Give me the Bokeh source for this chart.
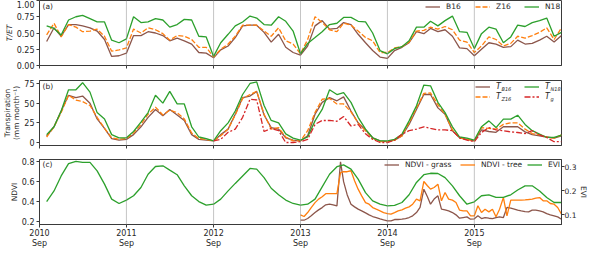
import math
from datetime import datetime
import numpy as np
import pandas as pd
from bokeh.plotting import figure
from bokeh.layouts import column
from bokeh.models import (Range1d, LinearAxis, FixedTicker, DatetimeTickFormatter,
                          NumeralTickFormatter, Span, Legend, LegendItem, Label)
from bokeh.embed import file_html
from bokeh.resources import INLINE

# ---------------- data ----------------
months = pd.date_range("2010-10-01", periods=72, freq="MS")
tg_months = pd.date_range("2012-09-01", periods=49, freq="MS")
ndvi_dates = []
for m in pd.date_range("2013-09-01", "2016-08-01", freq="MS"):
    ndvi_dates.append(m)
    ndvi_dates.append(m + pd.Timedelta(days=15))
ndvi_dates.append(pd.Timestamp("2016-09-01"))

year_ticks = [datetime(y, 9, 1) for y in range(2010, 2016)]

# (a) T/ET
tet_b16 = [0.37, 0.58, 0.45, 0.63, 0.63, 0.61, 0.58, 0.53, 0.40, 0.14, 0.15, 0.19, 0.46, 0.46, 0.52, 0.50, 0.46, 0.38, 0.42, 0.38, 0.33, 0.20,
           0.19, 0.12, 0.24, 0.30, 0.43, 0.61, 0.62, 0.62, 0.51, 0.36, 0.48, 0.28, 0.20, 0.16,
           0.30, 0.61, 0.69, 0.56, 0.57, 0.66, 0.63, 0.48, 0.35, 0.23, 0.13, 0.11, 0.23,
           0.28, 0.35, 0.52, 0.49, 0.57, 0.52, 0.55, 0.45, 0.27, 0.26, 0.15, 0.25, 0.35, 0.33, 0.28, 0.29, 0.39, 0.33, 0.34, 0.39, 0.45, 0.36, 0.46]
tet_z16 = [0.47, 0.65, 0.44, 0.63, 0.59, 0.52, 0.53, 0.56, 0.45, 0.22, 0.24, 0.27, 0.56, 0.50, 0.58, 0.55, 0.49, 0.39, 0.46, 0.45, 0.40, 0.28,
           0.28, 0.13, 0.25, 0.33, 0.45, 0.62, 0.62, 0.62, 0.53, 0.45, 0.58, 0.38, 0.33, 0.18,
           0.40, 0.75, 0.66, 0.55, 0.52, 0.65, 0.62, 0.53, 0.43, 0.38, 0.20, 0.20, 0.27,
           0.29, 0.36, 0.53, 0.54, 0.59, 0.56, 0.60, 0.55, 0.39, 0.36, 0.20, 0.30, 0.44, 0.40, 0.30, 0.34, 0.45, 0.42, 0.46, 0.51, 0.58, 0.40, 0.58]
tet_n18 = [0.61, 0.57, 0.47, 0.70, 0.75, 0.77, 0.72, 0.67, 0.67, 0.39, 0.35, 0.41, 0.75, 0.66, 0.67, 0.72, 0.70, 0.59, 0.63, 0.71, 0.70, 0.45,
           0.44, 0.14, 0.35, 0.48, 0.61, 0.67, 0.76, 0.73, 0.63, 0.62, 0.75, 0.68, 0.53, 0.18,
           0.34, 0.43, 0.52, 0.63, 0.65, 0.74, 0.74, 0.68, 0.67, 0.50, 0.23, 0.18, 0.26,
           0.29, 0.38, 0.59, 0.59, 0.68, 0.61, 0.69, 0.76, 0.52, 0.51, 0.26, 0.49, 0.59, 0.56, 0.35, 0.44, 0.62, 0.60, 0.66, 0.69, 0.73, 0.45, 0.51]

# (b) transpiration, mm/month
tr_b16 = [8, 20, 40, 60, 57, 59, 50, 30, 18, 5, 3, 4, 10, 20, 32, 42, 34, 42, 35, 28, 10, 4,
          3, 2, 10, 17, 36, 57, 59, 65, 35, 19, 17, 6, 3, 2, 8.5, 36, 51, 57, 53, 58, 40, 25, 16, 6, 2, 1, 3,
          8.5, 23, 42, 61, 61, 44, 36, 15, 6, 4, 2, 16, 14, 13, 20, 20, 20, 13.5, 10, 8.5, 7, 5.5, 8.5]
tr_z16 = [7, 20, 38, 60, 54, 52, 47, 32, 18, 6, 4, 5, 12, 23, 36, 45, 35, 41, 38, 30, 12, 5,
          4, 2, 8.5, 17, 35, 56, 61, 65, 36, 17, 19, 7, 2, 2, 15, 38, 55, 56, 49, 49, 39, 25, 15, 5.5, 1, 1, 3,
          8.5, 25, 44, 62.5, 63, 48, 36, 16, 6, 4, 2, 19, 18, 17, 23, 25, 25, 17, 11.4, 9.7, 7, 5.5, 9.7]
tr_n18 = [10, 20, 40, 67, 67, 76, 64, 38, 30, 10, 6, 6, 14, 26, 38, 60, 50, 65, 49, 49, 20, 7,
          5, 2, 15, 25, 40, 61, 75, 77, 47, 28, 25, 11, 5.5, 3, 7, 27.5, 42, 67, 61, 63.5, 51, 32, 17, 6, 2, 2, 4,
          10.6, 27.5, 46.6, 73, 72, 51, 38, 20, 7, 5.5, 3, 20, 27.5, 19, 29.7, 29.7, 34.7, 23, 15, 10.6, 6.4, 6.4, 9.3]
tr_g = [2, 4, 13, 17, 32, 55, 54, 14, 18, 15, 0, 0, 1, 4, 23, 28, 28, 27, 33, 21, 23, 11, 4, 0, 0, 3,
        10.6, 15, 17, 20, 18, 16, 16, 15, 6, 3, 1, 12.7, 19, 16, 15, 13.5, 12.7, 11.4, 15, 9.7, 6.4, 1, 1]

# (c) EVI (monthly) and NDVI (semi-monthly)
evi = [0.155, 0.199, 0.261, 0.312, 0.321, 0.317, 0.317, 0.282, 0.227, 0.165, 0.147, 0.161, 0.179, 0.213, 0.268, 0.300, 0.303, 0.285, 0.266, 0.220, 0.179, 0.155,
       0.140, 0.144, 0.165, 0.199, 0.230, 0.261, 0.292, 0.289, 0.254, 0.210, 0.183, 0.161, 0.147, 0.140, 0.144, 0.165, 0.216, 0.268, 0.299, 0.307, 0.289, 0.248, 0.192, 0.158, 0.144, 0.137, 0.139,
       0.151, 0.183, 0.234, 0.266, 0.272, 0.271, 0.254, 0.220, 0.179, 0.144, 0.154, 0.179, 0.183, 0.172, 0.172, 0.183, 0.203, 0.220, 0.220, 0.199, 0.172, 0.151, 0.151]
ndvi_tree = [0.267, 0.25, 0.29, 0.34, 0.39, 0.425, 0.448, 0.48, 0.48, 0.48, 0.48, 0.69, 0.70, 0.70, 0.71, 0.61, 0.525, 0.458, 0.39, 0.374, 0.34, 0.324, 0.307, 0.29, 0.28, 0.274, 0.29,
             0.307, 0.317, 0.334, 0.347, 0.374, 0.425, 0.408, 0.602, 0.559, 0.525, 0.542, 0.575, 0.408, 0.492, 0.425, 0.415, 0.391, 0.314, 0.307, 0.307, 0.257, 0.257, 0.358, 0.29,
             0.324, 0.297, 0.324, 0.247, 0.324, 0.441, 0.257, 0.415, 0.415, 0.415, 0.415, 0.418, 0.421, 0.425, 0.435, 0.441, 0.408, 0.408, 0.381, 0.374, 0.341, 0.274]
ndvi_grass = [0.213, 0.213, 0.23, 0.257, 0.29, 0.317, 0.34, 0.368, 0.374, 0.368, 0.357, 0.80, 0.60, 0.47, 0.374, 0.347, 0.324, 0.307, 0.287, 0.267, 0.25, 0.24, 0.227, 0.217, 0.207, 0.207, 0.22,
              0.22, 0.223, 0.23, 0.24, 0.257, 0.29, 0.341, 0.525, 0.448, 0.374, 0.425, 0.458, 0.324, 0.317, 0.307, 0.29, 0.267, 0.233, 0.24, 0.247,
              0.223, 0.227, 0.257, 0.23, 0.24, 0.233, 0.23, 0.24, 0.247, 0.24, 0.341, 0.334, 0.324, 0.314, 0.307, 0.30, 0.297, 0.314, 0.314, 0.307,
              0.297, 0.28, 0.267, 0.257, 0.247, 0.223]

for s in (tet_b16, tet_z16, tet_n18, tr_b16, tr_z16, tr_n18, evi):
    assert len(s) == 72, len(s)
assert len(tr_g) == 49
assert len(ndvi_tree) == 73 and len(ndvi_grass) == 73 and len(ndvi_dates) == 73

# ---------------- style ----------------
C_B, C_Z, C_N, C_G = "#8c564b", "#ff7f0e", "#2ca02c", "#d62728"
FONT = "DejaVu Sans"
TXT = "#262626"
AXC = "#3a3a3a"
FS = "7.5px"
TFS = "8px"
FW, FH = 522, 65
EPOCH = datetime(1970, 1, 1)


def ms(d):
    return (d - EPOCH).total_seconds() * 1000.0


MS0, MS1 = ms(datetime(2010, 9, 1)), ms(datetime(2016, 9, 1))
xr = Range1d(MS0, MS1)
tick_ms = [ms(t) for t in year_ticks]


def fx(px):
    return MS0 + px * (MS1 - MS0) / FW


def fy(rng, px):
    return rng.end - px * (rng.end - rng.start) / FH


def style_axis(ax, label=None, italic=False, standoff=2, size=TFS):
    ax.axis_line_color = AXC
    ax.major_tick_line_color = AXC
    ax.major_tick_out = 3
    ax.major_tick_in = 0
    ax.minor_tick_line_color = None
    ax.major_label_text_font = FONT
    ax.major_label_text_font_size = size
    ax.major_label_text_color = TXT
    ax.major_label_standoff = standoff
    if label is not None:
        ax.axis_label = label
        ax.axis_label_text_font = FONT
        ax.axis_label_text_font_size = FS
        ax.axis_label_text_color = TXT
        ax.axis_label_text_font_style = "italic" if italic else "normal"
        ax.axis_label_standoff = 0
        ax.axis_label_text_line_height = 1.0


def make(yr, bt, bb, ylabel, italic=False, xlabels=False):
    p = figure(frame_width=FW, frame_height=FH, x_range=xr, y_range=yr,
               x_axis_type="datetime", output_backend="svg", toolbar_location=None,
               min_border_left=32, min_border_right=34, min_border_top=bt, min_border_bottom=bb)
    p.grid.grid_line_color = None
    p.outline_line_color = AXC
    p.outline_line_alpha = 1
    p.outline_line_width = 1
    style_axis(p.xaxis[0])
    style_axis(p.yaxis[0], ylabel, italic)
    p.xaxis.ticker = FixedTicker(ticks=tick_ms)
    fmt = "%Y\n%b"
    p.xaxis.formatter = DatetimeTickFormatter(microseconds=fmt, milliseconds=fmt, seconds=fmt, minsec=fmt,
                                              minutes=fmt, hourmin=fmt, hours=fmt, days=fmt, months=fmt, years=fmt)
    p.xaxis.major_label_standoff = 1
    if not xlabels:
        p.xaxis.major_label_text_font_size = "1px"
        p.xaxis.major_label_text_color = None
    for t in tick_ms[1:]:
        p.add_layout(Span(location=t, dimension="height", line_color="#8a8a8a",
                          line_dash="1 1", line_width=1))
    return p


def text(p, x, y, s, size=FS, style="normal"):
    p.add_layout(Label(x=x, y=y, text=s, text_font=FONT, text_font_size=size, text_font_style=style,
                       text_color=TXT, text_align="left", text_baseline="middle"))


def entry(p, renderer, label, x, y, italic=False):
    p.add_layout(Legend(items=[LegendItem(label=label, renderers=[renderer])], location=(x, y),
                        orientation="vertical", padding=0, margin=0, spacing=0,
                        glyph_width=15, glyph_height=9, label_height=9, label_width=0,
                        label_standoff=6, label_text_font=FONT,
                        label_text_font_size="8px" if italic else FS,
                        label_text_color=TXT, label_text_font_style="italic" if italic else "normal",
                        border_line_color=None, background_fill_alpha=0))


LW = 1.3

# ---------------- (a) ----------------
ya = Range1d(0, 1)
pa = make(ya, 0, 10, "T/ET", italic=True)
pa.yaxis.ticker = FixedTicker(ticks=[0, 0.25, 0.5, 0.75, 1.0])
pa.yaxis.formatter = NumeralTickFormatter(format="0.00")
ra1 = pa.line(months, tet_b16, line_color=C_B, line_width=LW)
ra2 = pa.line(months, tet_z16, line_color=C_Z, line_width=LW, line_dash="5 2")
ra3 = pa.line(months, tet_n18, line_color=C_N, line_width=LW)
entry(pa, ra1, "B16", 386, 54.5)
entry(pa, ra2, "Z16", 436, 54.5)
entry(pa, ra3, "N18", 485, 54.5)
text(pa, fx(3), fy(ya, 6), "(a)")

# ---------------- (b) ----------------
yb = Range1d(-3.8, 78.8)
pb = make(yb, 5, 9, "Transpiration\n(mm month\u207b\u00b9)")
pb.yaxis.ticker = FixedTicker(ticks=[0, 25, 50, 75])
rb1 = pb.line(months, tr_b16, line_color=C_B, line_width=LW)
rb2 = pb.line(months, tr_z16, line_color=C_Z, line_width=LW, line_dash="5 2")
rb3 = pb.line(months, tr_n18, line_color=C_N, line_width=LW)
rb4 = pb.line(tg_months, tr_g, line_color=C_G, line_width=LW, line_dash="6 2 2 2")
entry(pb, rb1, "T", 436, 54.5, italic=True)
entry(pb, rb2, "T", 436, 44.5, italic=True)
entry(pb, rb3, "T", 485, 54.5, italic=True)
entry(pb, rb4, "T", 485, 44.5, italic=True)
for xpx, ypx, sub in [(462, 8.5, "B16"), (462, 18.5, "Z16"), (511, 8.5, "N18"), (511, 18.5, "g")]:
    text(pb, fx(xpx), fy(yb, ypx), sub, size="5px", style="italic")
text(pb, fx(3), fy(yb, 6), "(b)")

# ---------------- (c) ----------------
yc = Range1d(0.17, 0.823)
pc = make(yc, 5, 24, "NDVI", xlabels=True)
pc.extra_y_ranges = {"evi": Range1d(0.06, 0.329)}
pc.yaxis.ticker = FixedTicker(ticks=[0.2, 0.4, 0.6, 0.8])
rax = LinearAxis(y_range_name="evi", ticker=FixedTicker(ticks=[0.1, 0.2, 0.3]))
style_axis(rax, "EVI", standoff=0, size=FS)
pc.add_layout(rax, "right")
rc1 = pc.line(ndvi_dates, ndvi_grass, line_color=C_B, line_width=LW)
rc2 = pc.line(ndvi_dates, ndvi_tree, line_color=C_Z, line_width=LW)
rc3 = pc.line(months, evi, line_color=C_N, line_width=LW, y_range_name="evi")
entry(pc, rc1, "NDVI - grass", 345, 55.5)
entry(pc, rc2, "NDVI - tree", 421, 55.5)
entry(pc, rc3, "EVI", 488, 55.5)
text(pc, fx(3), fy(yc, 5), "(c)")

layout = column(pa, pb, pc)
open("out.html", "w").write(file_html(layout, INLINE))
